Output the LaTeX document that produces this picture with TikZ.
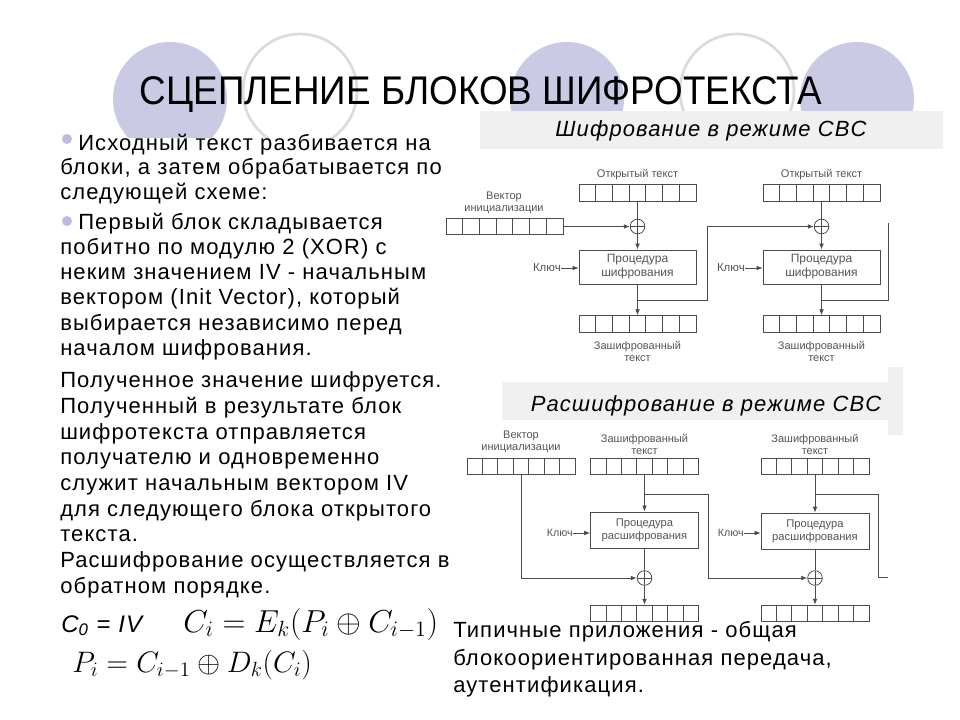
\documentclass[tikz,border=0pt]{standalone}
\usepackage{fontspec}
\setmainfont{Liberation Sans}
\newfontfamily\slidefont{Liberation Sans}[LetterSpace=5.0]
\usetikzlibrary{arrows.meta, calc, positioning}

\definecolor{lavender}{RGB}{202,202,228}
\definecolor{ringgray}{RGB}{218,218,226}
\definecolor{bandgray}{RGB}{240,240,240}
\definecolor{bulletblue}{RGB}{186,186,226}
\definecolor{linegray}{RGB}{75,75,75}
\definecolor{labelgray}{RGB}{85,85,85}

\begin{document}
\begin{tikzpicture}[x=0.75pt, y=-0.75pt,
    body/.style={anchor=base west, inner sep=0pt, font=\slidefont\fontsize{16.5}{20}\selectfont},
    bandtext/.style={anchor=base, inner sep=0pt, font=\slidefont\itshape\fontsize{16.5}{20}\selectfont},
    cells/.style={draw=linegray, line width=0.6pt, minimum width=#1, minimum height=12.5pt, inner sep=0pt,
      path picture={\foreach \k in {1,...,6}
        \draw[linegray, line width=0.6pt]
          ($(path picture bounding box.north west)!\k/7!(path picture bounding box.north east)$) --
          ($(path picture bounding box.south west)!\k/7!(path picture bounding box.south east)$);}},
    proc/.style={draw=linegray, line width=0.6pt, minimum width=87.75pt, minimum height=#1, inner sep=0pt,
      align=center, text=labelgray},
    xorop/.style={draw=linegray, circle, line width=0.6pt, minimum size=11pt, inner sep=0pt,
      path picture={\draw[linegray, line width=0.6pt]
        (path picture bounding box.north) -- (path picture bounding box.south)
        (path picture bounding box.west) -- (path picture bounding box.east);}},
    lbl/.style={inner sep=0pt, align=center, text=labelgray, font=\fontsize{8.25}{9}\selectfont},
    keylbl/.style={lbl, anchor=east, font=\fontsize{8.6}{9}\selectfont},
    flow/.style={draw=linegray, line width=0.6pt},
    arr/.style={flow, -{Latex[length=4.5pt, width=3.5pt]}}]

    \useasboundingbox (0,0) rectangle (960,720);
    \fill[white] (0,0) rectangle (960,720);

    % decorative circles behind the title
    \begin{scope}
        \clip (0,0) rectangle (960,138);
        \fill[lavender] (170,99) circle[radius=57];
        \fill[lavender] (567,99) circle[radius=57];
        \fill[lavender] (857,99) circle[radius=57];
        \draw[ringgray, line width=2pt] (300,91) circle[radius=57];
        \draw[ringgray, line width=2pt] (737,91) circle[radius=57];
    \end{scope}

    \node[anchor=base, inner sep=0pt, font=\fontsize{30}{34}\selectfont] (title) at (481,105)
        {\scalebox{0.92}[1]{СЦЕПЛЕНИЕ БЛОКОВ ШИФРОТЕКСТА}};

    % headings of the two schemes
    \fill[bandgray] (480,111) rectangle (943,149);
    \node[bandtext] (encname) at (711,137) {Шифрование в режиме CBC};
    \fill[bandgray] (502,382) rectangle (888,420);
    \fill[bandgray] (888,367) rectangle (903,435);
    \node[bandtext] (decname) at (706,411) {Расшифрование в режиме CBC};

    % left column text
    \fill[bulletblue] (67,139) circle[radius=5];
    \fill[bulletblue] (67,221) circle[radius=5];
    \foreach \xx/\yy/\txt [count=\i] in {
        78/151/{Исходный текст разбивается на},
        60/175/{блоки, а затем обрабатывается по},
        60/200/{следующей схеме:},
        78/230/{Первый блок складывается},
        60/255/{побитно по модулю 2 (XOR) с},
        60/280/{неким значением IV - начальным},
        60/305/{вектором (Init Vector), который},
        60/330/{выбирается независимо перед},
        60/355/{началом шифрования.},
        60/387/{Полученное значение шифруется.},
        60/413/{Полученный в результате блок},
        60/439/{шифротекста отправляется},
        60/464/{получателю и одновременно},
        60/490/{служит начальным вектором IV},
        60/516/{для следующего блока открытого},
        60/541/{текста.},
        60/567/{Расшифрование осуществляется в},
        60/593/{обратном порядке.}}
        \node[body] (line\i) at (\xx,\yy) {\txt};

    % encryption, first block
    \node[lbl] (ivElbl) at (504,202.5) {Вектор\\инициализации};
    \node[cells=87.75pt] (ivE) at (504.5,226.5) {};
    \node[lbl] (ptE1lbl) at (637.5,175) {Открытый текст};
    \node[cells=87.75pt] (ptE1) at (637.5,193) {};
    \node[xorop] (xorE1) at (637.5,226.5) {};
    \node[proc=25.5pt, font=\fontsize{9}{10.5}\selectfont] (encE1) at (637.5,267) {Процедура\\шифрования};
    \node[keylbl] (keyE1) at (561,268) {Ключ};
    \node[cells=87.75pt] (ctE1) at (637.5,324) {};
    \node[lbl] (ctE1lbl) at (637.5,351) {Зашифрованный\\текст};
    \coordinate (tapE1) at (637.5,300);

    % encryption, second block
    \node[lbl] (ptE2lbl) at (821.5,175) {Открытый текст};
    \node[cells=87.75pt] (ptE2) at (821.5,193) {};
    \node[xorop] (xorE2) at (821.5,226.5) {};
    \node[proc=25.5pt, font=\fontsize{9}{10.5}\selectfont] (encE2) at (821.5,267) {Процедура\\шифрования};
    \node[keylbl] (keyE2) at (745,268) {Ключ};
    \node[cells=87.75pt] (ctE2) at (821.5,324) {};
    \node[lbl] (ctE2lbl) at (821.5,351) {Зашифрованный\\текст};
    \coordinate (tapE2) at (821.5,300);
    \coordinate (edgeE) at (888,223);

    \draw[flow] (ptE1) -- (xorE1);
    \draw[arr] (ivE) -- (xorE1);
    \draw[arr] (xorE1) -- (encE1);
    \draw[arr] (keyE1.east) -- (keyE1.east -| encE1.west);
    \draw[arr] (encE1) -- (ctE1);
    \draw[arr] (tapE1) -- ++(69.5,0) |- (xorE2);
    \draw[flow] (ptE2) -- (xorE2);
    \draw[arr] (xorE2) -- (encE2);
    \draw[arr] (keyE2.east) -- (keyE2.east -| encE2.west);
    \draw[arr] (encE2) -- (ctE2);
    \draw[flow] (tapE2) -| (edgeE);

    % decryption, first block
    \node[lbl] (ivDlbl) at (521,441.5) {Вектор\\инициализации};
    \node[cells=81pt] (ivD) at (521,466.5) {};
    \node[lbl] (ctD1lbl) at (644.5,444.5) {Зашифрованный\\текст};
    \node[cells=81pt] (ctD1) at (644.5,466.5) {};
    \node[proc=27pt, minimum width=81pt, font=\fontsize{8.4}{10}\selectfont] (decD1) at (644.5,530) {Процедура\\расшифрования};
    \node[keylbl, font=\fontsize{8}{9}\selectfont] (keyD1) at (573,533) {Ключ};
    \node[xorop] (xorD1) at (644.5,578) {};
    \node[cells=81pt] (outD1) at (644.5,613.5) {};
    \coordinate (tapD1) at (644.5,494);

    % decryption, second block
    \node[lbl] (ctD2lbl) at (815,444.5) {Зашифрованный\\текст};
    \node[cells=81pt] (ctD2) at (815,466.5) {};
    \node[proc=27pt, minimum width=81pt, font=\fontsize{8.4}{10}\selectfont] (decD2) at (815,531) {Процедура\\расшифрования};
    \node[keylbl, font=\fontsize{8}{9}\selectfont] (keyD2) at (744,533) {Ключ};
    \node[xorop] (xorD2) at (815,578) {};
    \node[cells=81pt] (outD2) at (815,613.5) {};
    \coordinate (tapD2) at (815,494);
    \coordinate (edgeD) at (888,577);

    \draw[arr] (ctD1) -- (decD1);
    \draw[flow] (decD1) -- (xorD1);
    \draw[arr] (xorD1) -- (outD1);
    \draw[arr] (keyD1.east) -- (keyD1.east -| decD1.west);
    \draw[arr] (ivD.south) |- (xorD1);
    \draw[arr] (tapD1) -- ++(63.5,0) |- (xorD2);
    \draw[arr] (ctD2) -- (decD2);
    \draw[flow] (decD2) -- (xorD2);
    \draw[arr] (xorD2) -- (outD2);
    \draw[arr] (keyD2.east) -- (keyD2.east -| decD2.west);
    \draw[flow] (tapD2) -- ++(63,0) |- (edgeD);

    % formulas
    \node[anchor=base west, inner sep=0pt, font=\slidefont\itshape\fontsize{18}{20}\selectfont] (czero) at (61,632)
        {C\textsubscript{0} = IV};
    \node[anchor=base west, inner sep=0pt, font=\fontsize{20.74}{26}\selectfont] (encrule) at (183,632)
        {\scalebox{1.15}{$C_i = E_k(P_i \oplus C_{i-1})$}};
    \node[anchor=base west, inner sep=0pt, font=\fontsize{20.74}{26}\selectfont] (decrule) at (72,672)
        {\scalebox{1.07}{$P_i = C_{i-1} \oplus D_k(C_i)$}};

    % applications
    \node[body] (usage1) at (453,637) {Типичные приложения - общая};
    \node[body] (usage2) at (453,665) {блокоориентированная передача,};
    \node[body] (usage3) at (453,692) {аутентификация.};
\end{tikzpicture}
\end{document}
